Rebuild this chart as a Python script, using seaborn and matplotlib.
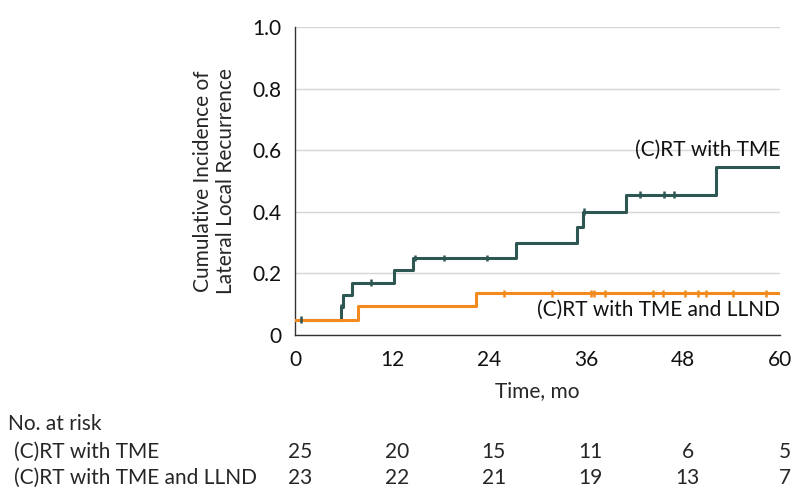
import numpy as np
import pandas as pd
import seaborn as sns
import matplotlib.pyplot as plt
from matplotlib import transforms

# step curves (time in months, cumulative incidence)
tme_times = [0, 5.7, 5.9, 7.1, 12.25, 14.6, 27.4, 34.9, 35.6, 41.0, 52.1, 60]
tme_cif = [0.05, 0.09, 0.13, 0.17, 0.21, 0.25, 0.30, 0.35, 0.40, 0.455, 0.545, 0.545]
llnd_times = [0, 7.8, 22.4, 60]
llnd_cif = [0.05, 0.093, 0.135, 0.135]

# censoring marks
tme_censor = [0.8, 5.75, 9.4, 14.8, 18.4, 23.7, 35.7, 42.7, 45.7, 46.9]
llnd_censor = [25.8, 31.8, 36.6, 37.0, 38.4, 44.3, 45.5, 48.3, 49.9, 50.9, 54.2, 58.3]

# number at risk table
risk_times = [0, 12, 24, 36, 48, 60]
tme_risk = [25, 20, 15, 11, 6, 5]
llnd_risk = [23, 22, 21, 19, 13, 7]

groups = ["(C)RT with TME", "(C)RT with TME and LLND"]
colors = {"(C)RT with TME": "#2e5652", "(C)RT with TME and LLND": "#f28a1e"}


def step_value(times, values, t):
    """ value of a right-continuous step function at time t """
    idx = np.searchsorted(times, t, side="right") - 1
    return np.asarray(values)[idx]


curves = pd.concat([
    pd.DataFrame({"time": tme_times, "cif": tme_cif, "group": groups[0]}),
    pd.DataFrame({"time": llnd_times, "cif": llnd_cif, "group": groups[1]}),
])
censors = pd.concat([
    pd.DataFrame({"time": tme_censor, "cif": step_value(tme_times, tme_cif, tme_censor), "group": groups[0]}),
    pd.DataFrame({"time": llnd_censor, "cif": step_value(llnd_times, llnd_cif, llnd_censor), "group": groups[1]}),
])

sns.set_style("white")
plt.rcParams["font.family"] = ["Lato", "DejaVu Sans"]
fs = 15

fig = plt.figure(figsize=(7.98, 5.04), dpi=100)
ax = fig.add_axes([0.3697, 0.3353, 0.6077, 0.6111])

sns.lineplot(data=curves, x="time", y="cif", hue="group", palette=colors,
             drawstyle="steps-post", linewidth=2.2, legend=False, ax=ax, zorder=3)
sns.scatterplot(data=censors, x="time", y="cif", hue="group", palette=colors,
                marker="|", s=25, linewidth=1.8, legend=False, ax=ax, zorder=4)

ax.set_xlim(0, 60)
ax.set_ylim(0, 1.0)
ax.set_xticks(risk_times)
ax.set_yticks([0, 0.2, 0.4, 0.6, 0.8, 1.0])
ax.set_yticklabels(["0", "0.2", "0.4", "0.6", "0.8", "1.0"])
ax.tick_params(axis="both", labelsize=fs, length=6, width=1, color="#333333",
               labelcolor="#111111", direction="out")
ax.tick_params(axis="x", pad=5)
ax.yaxis.grid(True, color="#d6d6d6", linewidth=1)
ax.set_axisbelow(True)
for side in ["top", "right"]:
    ax.spines[side].set_visible(False)
for side in ["left", "bottom"]:
    ax.spines[side].set_color("#333333")
    ax.spines[side].set_linewidth(1)

ax.set_xlabel("Time, mo", fontsize=fs, labelpad=8)
ax.set_ylabel("Cumulative Incidence of\nLateral Local Recurrence", fontsize=fs, labelpad=12)

ax.text(60, 0.57, groups[0], ha="right", va="bottom", fontsize=fs, color="#111111")
ax.text(60, 0.115, groups[1], ha="right", va="top", fontsize=fs, color="#111111")

# number at risk table
trans = transforms.blended_transform_factory(ax.transData, fig.transFigure)
fig.text(8 / 798, 1 - 424 / 504, "No. at risk", fontsize=fs, va="center")
fig.text(14 / 798, 1 - 452 / 504, groups[0], fontsize=fs, va="center")
fig.text(14 / 798, 1 - 478 / 504, groups[1], fontsize=fs, va="center")
for t, n1, n2 in zip(risk_times, tme_risk, llnd_risk):
    ax.text(t + 0.6, 1 - 452 / 504, str(n1), transform=trans, ha="center", va="center", fontsize=fs)
    ax.text(t + 0.6, 1 - 478 / 504, str(n2), transform=trans, ha="center", va="center", fontsize=fs)

fig.savefig("out.png", dpi=100)
